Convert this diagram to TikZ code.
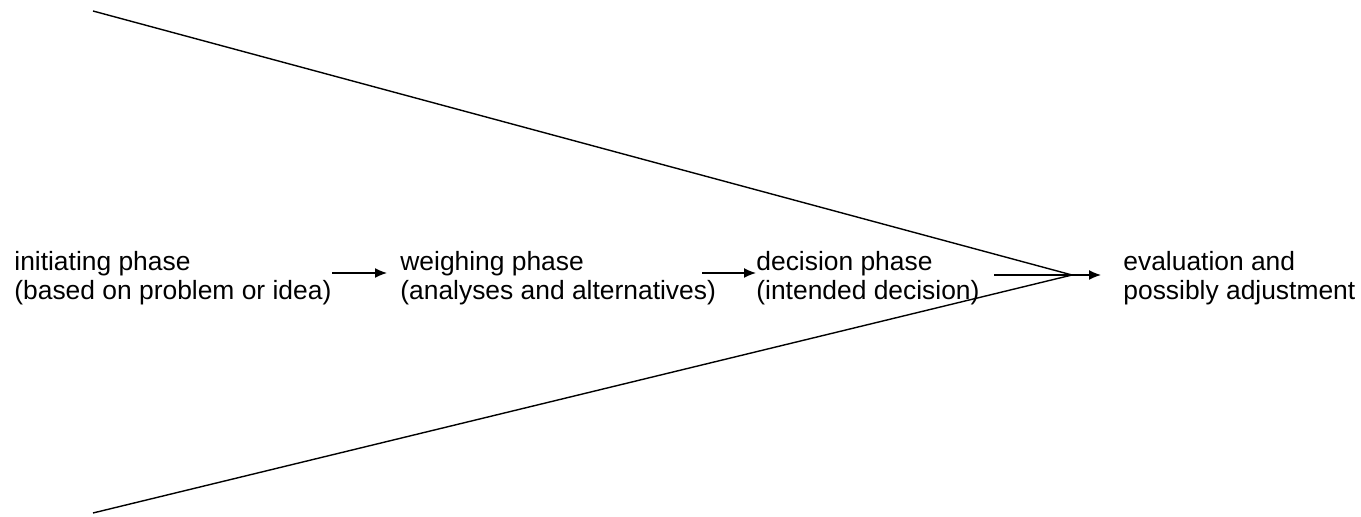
\documentclass[tikz,border=0pt]{standalone}
\usepackage{fontspec}
\setmainfont{Liberation Sans}
\usetikzlibrary{arrows.meta}
\begin{document}
\begin{tikzpicture}[x=0.5pt,y=-0.5pt,
  lbl/.style={align=left,inner sep=0pt,anchor=north west,font=\fontsize{13.2pt}{14.6pt}\selectfont},
  ln/.style={line width=0.7pt},
  arr/.style={line width=0.7pt,-{Latex[length=6pt,width=5pt]}}]
\useasboundingbox (0,0) rectangle (1361,517);
\node[lbl] (init) at (14,251) {initiating phase\\(based on problem or idea)};
\node[lbl] (weigh) at (400,251) {weighing phase\\(analyses and alternatives)};
\node[lbl] (dec) at (756,251) {decision phase\\(intended decision)};
\node[lbl] (eval) at (1123,251) {evaluation and\\possibly adjustment};
\coordinate (top) at (93,11);
\coordinate (bot) at (93,513);
\coordinate (apex) at (1072,275);
\coordinate (a1s) at (332,273);
\coordinate (a1e) at (387,273);
\coordinate (a2s) at (702,273);
\coordinate (a2e) at (756,273);
\coordinate (a3s) at (994,275);
\coordinate (a3e) at (1101,275);
\draw[ln] (top) -- (apex) -- (bot);
\draw[arr] (a1s) -- (a1e);
\draw[arr] (a2s) -- (a2e);
\draw[arr] (a3s) -- (a3e);
\end{tikzpicture}
\end{document}
